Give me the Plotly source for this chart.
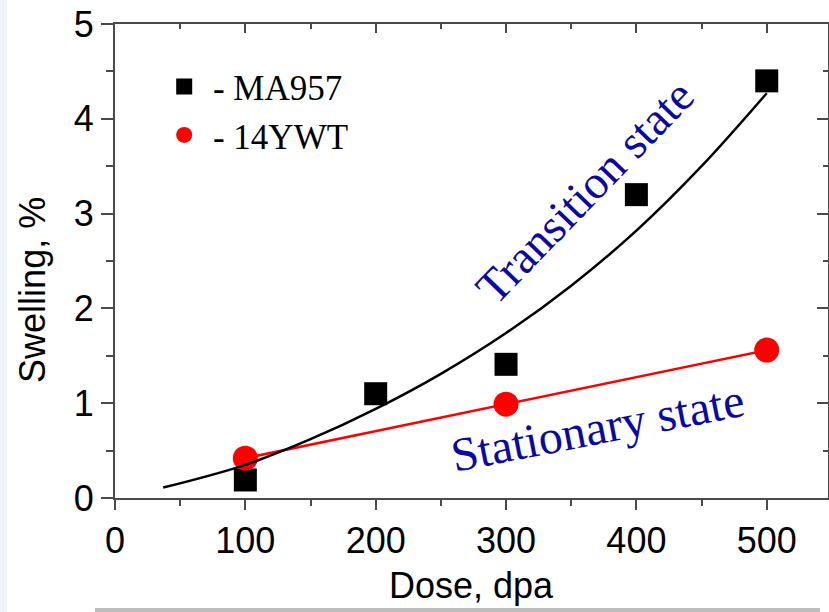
import plotly.graph_objects as go

# Measured swelling vs. irradiation dose
dose_ma957 = [100, 200, 300, 400, 500]
swell_ma957 = [0.19, 1.10, 1.41, 3.20, 4.40]

dose_14ywt = [100, 300, 500]
swell_14ywt = [0.42, 0.99, 1.56]

# Fitted trends: accelerating (transition) and linear (stationary)
fit_ma957_x = [37, 100, 150, 200, 250, 300, 350, 400, 450, 500]
fit_ma957_y = [0.11, 0.35, 0.62, 0.94, 1.31, 1.74, 2.24, 2.82, 3.50, 4.27]

fit_14ywt_x = [100, 500]
fit_14ywt_y = [0.42, 1.56]

x_ticks = [0, 100, 200, 300, 400, 500]
y_ticks = [0, 1, 2, 3, 4, 5]

AXIS_COLOR = "#4a4a4a"
NAVY = "#0a0a9c"
SANS = "Liberation Sans, Arial, sans-serif"
SERIF = "Liberation Serif, Times New Roman, serif"

fig = go.Figure()

fig.add_trace(go.Scatter(
    x=dose_ma957, y=swell_ma957, mode="markers", name="\u00a0- MA957",
    marker=dict(symbol="square", size=23, color="black"),
))
fig.add_trace(go.Scatter(
    x=dose_14ywt, y=swell_14ywt, mode="markers", name="\u00a0- 14YWT",
    marker=dict(symbol="circle", size=25, color="#ff0000"),
))
fig.add_trace(go.Scatter(
    x=fit_14ywt_x, y=fit_14ywt_y, mode="lines", showlegend=False,
    line=dict(color="#ff0000", width=2.5),
))
fig.add_trace(go.Scatter(
    x=fit_ma957_x, y=fit_ma957_y, mode="lines", showlegend=False,
    line=dict(color="black", width=2.5, shape="spline", smoothing=1.0),
))
# invisible trace that anchors the mirrored top/right axes
fig.add_trace(go.Scatter(
    x=dose_14ywt, y=swell_14ywt, xaxis="x2", yaxis="y2", mode="markers",
    marker=dict(opacity=0), showlegend=False, hoverinfo="skip",
))

x_range = [0, 547]
y_range = [0, 5]

common = dict(showgrid=False, zeroline=False, showline=True,
              linecolor=AXIS_COLOR, linewidth=2,
              tickcolor=AXIS_COLOR, tickwidth=2)

fig.update_layout(
    width=829, height=612,
    margin=dict(l=115, r=1, t=24, b=114),
    paper_bgcolor="white", plot_bgcolor="white",
    xaxis=dict(range=x_range, tickvals=x_ticks, ticks="outside", ticklen=10,
               tickfont=dict(family=SANS, size=36, color="black"),
               minor=dict(dtick=50, ticks="outside", ticklen=6,
                          tickcolor=AXIS_COLOR, tickwidth=2),
               **common),
    yaxis=dict(range=y_range, tickvals=y_ticks, ticks="outside", ticklen=12,
               tickfont=dict(family=SANS, size=36, color="black"),
               minor=dict(dtick=0.5, ticks="outside", ticklen=7,
                          tickcolor=AXIS_COLOR, tickwidth=2),
               **common),
    xaxis2=dict(range=x_range, overlaying="x", side="top", anchor="y2",
                tickvals=x_ticks, ticks="inside", ticklen=9, showticklabels=False,
                minor=dict(dtick=50, ticks="inside", ticklen=5,
                           tickcolor=AXIS_COLOR, tickwidth=2),
                **common),
    yaxis2=dict(range=y_range, overlaying="y", side="right", anchor="x2",
                tickvals=y_ticks, ticks="inside", ticklen=11, showticklabels=False,
                minor=dict(dtick=0.5, ticks="inside", ticklen=5,
                           tickcolor=AXIS_COLOR, tickwidth=2),
                **common),
    legend=dict(x=0.069, y=0.93, xanchor="left", yanchor="top",
                bgcolor="rgba(0,0,0,0)",
                font=dict(family=SERIF, size=35, color="black"),
                tracegroupgap=0, itemsizing="trace"),
    showlegend=True,
)

annotations = [
    dict(text="Dose, dpa", xref="paper", yref="paper", x=0.5, y=-0.185,
         xanchor="center", yanchor="middle", showarrow=False,
         font=dict(family=SANS, size=36, color="black")),
    dict(text="Swelling, %", xref="paper", yref="paper", x=-0.115, y=0.439,
         xanchor="center", yanchor="middle", showarrow=False, textangle=-90,
         font=dict(family=SANS, size=36, color="black")),
    dict(text="Transition state", xref="x", yref="y", x=360, y=3.23,
         xanchor="center", yanchor="middle", showarrow=False, textangle=-46,
         font=dict(family=SERIF, size=47, color=NAVY)),
    dict(text="Stationary state", xref="x", yref="y", x=370, y=0.74,
         xanchor="center", yanchor="middle", showarrow=False, textangle=-11,
         font=dict(family=SERIF, size=48, color=NAVY)),
]
fig.update_layout(annotations=annotations)

# thin scan-like borders along the left and bottom edges of the page
fig.add_shape(type="rect", xref="paper", yref="paper",
              x0=-115 / 713, x1=-108 / 713, y0=-114 / 474, y1=1 + 24 / 474,
              fillcolor="#eef3f9", line_width=0, layer="below")
fig.add_shape(type="rect", xref="paper", yref="paper",
              x0=-20 / 713, x1=705 / 713, y0=-114 / 474, y1=-110 / 474,
              fillcolor="#bdbdbd", line_width=0, layer="below")

fig.write_html("out.html")
